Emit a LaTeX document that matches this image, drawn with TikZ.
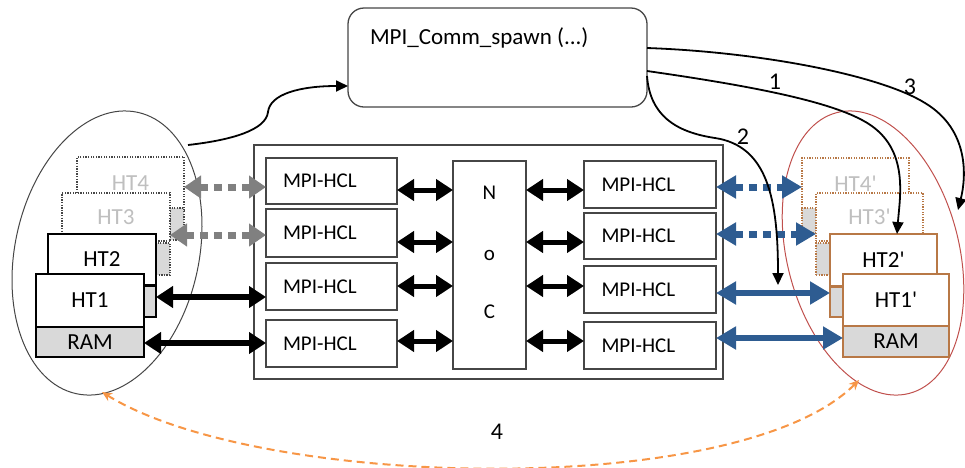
\documentclass[tikz,border=0pt]{standalone}
\usepackage{fontspec}
\setmainfont{Carlito}
\usetikzlibrary{arrows.meta,shapes.geometric,calc}
\definecolor{bdr}{RGB}{70,70,70}
\definecolor{tabgray}{RGB}{217,217,217}
\definecolor{ltext}{RGB}{191,191,191}
\definecolor{darrow}{RGB}{128,128,128}
\definecolor{blu}{RGB}{46,92,145}
\definecolor{brn}{RGB}{184,120,70}
\definecolor{redel}{RGB}{192,80,77}
\definecolor{orng}{RGB}{247,150,70}
\begin{document}
\begin{tikzpicture}[x=1pt,y=-1pt,
  every node/.style={inner sep=0pt, outer sep=0pt},
  box/.style={draw=bdr, line width=1.3pt, fill=white, anchor=north west},
  mpi/.style={box, font=\fontsize{21}{24}\selectfont, inner xsep=17pt, text width=97pt, align=left},
  htbox/.style={draw=black, line width=1.3pt, fill=white, anchor=north west, font=\fontsize{23}{26}\selectfont},
  htdot/.style={htbox, draw=bdr, dash pattern=on 1.3pt off 1.3pt, text=ltext},
  tab/.style={draw=black, line width=1.3pt, fill=tabgray, anchor=north west},
  tabdot/.style={tab, draw=bdr, dash pattern=on 1.3pt off 1.3pt},
  pbox/.style={htbox, draw=brn},
  pdot/.style={htdot, draw=brn},
  ptab/.style={tab, draw=brn},
  ptabdot/.style={tabdot, draw=brn},
  lbl/.style={font=\fontsize{21}{24}\selectfont},
  numlbl/.style={font=\fontsize{24}{28}\selectfont},
  gar/.style={draw=darrow, line width=7pt, dash pattern=on 8pt off 6pt, <->, >={Triangle[length=17pt,width=22pt]}},
  bar/.style={draw=black, line width=5pt, <->, >={Triangle[length=17pt,width=21pt]}},
  blar/.style={draw=blu, line width=6pt, <->, >={Triangle[length=20pt,width=22pt]}},
  bldot/.style={blar, line width=7pt, dash pattern=on 8pt off 6pt},
  car/.style={draw=black, line width=1.8pt, -{Triangle[length=12pt,width=11pt]}},
  oar/.style={draw=orng, line width=2pt, dash pattern=on 8pt off 5pt, {Stealth[length=10pt,width=9pt]}-{Stealth[length=10pt,width=9pt]}}
]
\useasboundingbox (0,0) rectangle (965,467);

% ellipses
\node[draw=bdr, line width=1pt, ellipse, minimum width=288pt, minimum height=184pt, rotate=77.7] (E1) at (107,253) {};
\node[draw=redel, line width=1pt, ellipse, minimum width=290pt, minimum height=172pt, rotate=104.4] (E2) at (873,253) {};

% spawn box
\node[draw=bdr, line width=1.3pt, rounded corners=16pt, anchor=north west, minimum width=299pt, minimum height=99pt, fill=white] (spawn) at (348,8) {};
\node[anchor=west, font=\fontsize{23}{26}\selectfont] (spawntxt) at ($(spawn.north west)+(22,30)$) {MPI\_Comm\_spawn (...)};

% main box
\node[draw=bdr, line width=1.6pt, anchor=north west, minimum width=469pt, minimum height=234pt] (main) at (254,145) {};
\node[mpi, minimum width=131pt, minimum height=46pt] (L1) at (266,158) {MPI-HCL};
\node[mpi, minimum width=131pt, minimum height=48pt] (L2) at (266,209) {MPI-HCL};
\node[mpi, minimum width=131pt, minimum height=47pt] (L3) at (266,263) {MPI-HCL};
\node[mpi, minimum width=131pt, minimum height=47pt] (L4) at (266,320) {MPI-HCL};
\node[box, minimum width=73pt, minimum height=208pt] (noc) at (453,161) {};
\node[lbl] (nocN) at ($(noc.north)+(0,32)$) {N};
\node[lbl] (nocO) at ($(noc.north)+(0,94)$) {o};
\node[lbl] (nocC) at ($(noc.north)+(0,151)$) {C};
\node[mpi, minimum width=132pt, minimum height=47pt] (R1) at (584,161) {MPI-HCL};
\node[mpi, minimum width=132pt, minimum height=46pt] (R2) at (584,213) {MPI-HCL};
\node[mpi, minimum width=132pt, minimum height=47pt] (R3) at (584,266) {MPI-HCL};
\node[mpi, minimum width=132pt, minimum height=47pt] (R4) at (584,322) {MPI-HCL};

% left HTs
\node[htdot, minimum width=107pt, minimum height=53pt] (HT4) at (77,157) {HT4};
\node[tabdot, minimum width=14pt, minimum height=32pt] (HT3tab) at (170,208) {};
\node[htdot, minimum width=108pt, minimum height=48pt] (HT3) at (62,193) {HT3};
\node[tabdot, minimum width=14pt, minimum height=32pt] (HT2tab) at (156,243) {};
\node[htbox, minimum width=108pt, minimum height=51pt] (HT2) at (48,234) {HT2};
\node[tab, minimum width=12pt, minimum height=31pt] (HT1tab) at (144,286) {};
\node[htbox, minimum width=108pt, minimum height=53pt] (HT1) at (36,274) {HT1};
\node[htbox, fill=tabgray, minimum width=108pt, minimum height=30pt] (RAM) at (36,327) {RAM};

% right HTs
\node[pdot, minimum width=107pt, minimum height=52pt] (HT4p) at (802,158) {HT4\textquotesingle};
\node[ptabdot, minimum width=14pt, minimum height=25pt] (HT3ptab) at (802,208) {};
\node[pdot, minimum width=107pt, minimum height=48pt] (HT3p) at (816,193) {HT3\textquotesingle};
\node[ptabdot, minimum width=14pt, minimum height=32pt] (HT2ptab) at (816,243) {};
\node[pbox, minimum width=107pt, minimum height=52pt] (HT2p) at (830,234) {HT2\textquotesingle};
\node[ptab, minimum width=13pt, minimum height=30pt] (HT1ptab) at (830,287) {};
\node[pbox, minimum width=106pt, minimum height=52pt] (HT1p) at (843,274) {HT1\textquotesingle};
\node[pbox, fill=tabgray, minimum width=106pt, minimum height=31pt] (RAMp) at (843,326) {RAM};

% row coordinates
\coordinate (g1) at (0,187);
\coordinate (g2) at (0,235);
\coordinate (k3) at (0,297);
\coordinate (k4) at (0,343);
\coordinate (n1) at (0,190);
\coordinate (n2) at (0,242);
\coordinate (n3) at (0,286);
\coordinate (n4) at (0,341);
\coordinate (b1) at (0,187);
\coordinate (b2) at (0,234);
\coordinate (b3) at (0,293);
\coordinate (b4) at (0,338);

% left arrows
\draw[gar] (HT4.east |- g1) -- (L1.west |- g1);
\draw[gar] (HT3tab.west |- g2) -- (L2.west |- g2);
\draw[bar, line width=6pt] (HT1tab.east |- k3) -- (L3.west |- k3);
\draw[bar, line width=6pt] (RAM.east |- k4) -- (L4.west |- k4);

% inner arrows
\draw[bar] (L1.east |- n1) -- (noc.west |- n1);
\draw[bar] (L2.east |- n2) -- (noc.west |- n2);
\draw[bar] (L3.east |- n3) -- (noc.west |- n3);
\draw[bar] (L4.east |- n4) -- (noc.west |- n4);
\draw[bar] (noc.east |- n1) -- (R1.west |- n1);
\draw[bar] (noc.east |- n2) -- (R2.west |- n2);
\draw[bar] (noc.east |- n3) -- (R3.west |- n3);
\draw[bar] (noc.east |- n4) -- (R4.west |- n4);

% right arrows
\draw[bldot] (R1.east |- b1) -- (HT4p.west |- b1);
\draw[bldot] (R2.east |- b2) -- (HT3p.west |- b2);
\draw[blar] (R3.east |- b3) -- (HT1ptab.west |- b3);
\draw[blar] (R4.east |- b4) -- (RAMp.west |- b4);

% curved connectors
\coordinate (c0s) at (188,145);
\coordinate (c0e) at (spawn.west |- 0,86);
\draw[car] (c0s) .. controls (232,140) and (266,130) .. (268,112) .. controls (270,94) and (300,86) .. (c0e);

\coordinate (c1s) at (spawn.east |- 0,71);
\coordinate (c1e) at (HT2p.north -| 897,0);
\draw[car] (c1s) .. controls (745,85) and (825,100) .. (862,120) .. controls (910,145) and (900,195) .. (c1e);

\coordinate (c2s) at (spawn.east |- 0,76);
\coordinate (c2e) at (778,285);
\draw[car] (c2s) .. controls (650,115) and (675,132) .. (715,138) .. controls (768,146) and (778,200) .. (c2e);

\coordinate (c3s) at (spawn.east |- 0,48);
\coordinate (c3e) at (958,210);
\draw[car] (c3s) .. controls (760,52) and (880,75) .. (925,103) .. controls (970,130) and (966,178) .. (c3e);

\coordinate (o1) at (102,392);
\coordinate (o2) at (859,380);
\draw[oar] (o1) .. controls (260,490) and (740,500) .. (o2);

\node[numlbl] (lab1) at (775,82) {1};
\node[numlbl] (lab2) at (743,137) {2};
\node[numlbl] (lab3) at (910,87) {3};
\node[numlbl] (lab4) at (497,432) {4};
\end{tikzpicture}
\end{document}
